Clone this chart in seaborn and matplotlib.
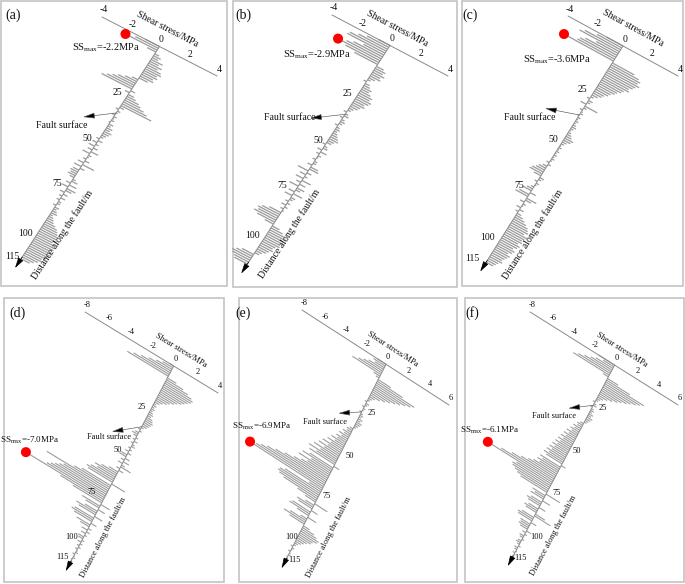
import numpy as np
import matplotlib
matplotlib.use("Agg")
import matplotlib.pyplot as plt
from matplotlib.transforms import Affine2D
from matplotlib.patches import Rectangle
import seaborn as sns

sns.set_theme(style="white")
plt.rcParams["font.family"] = ["Liberation Serif", "DejaVu Serif"]
plt.rcParams["mathtext.default"] = "regular"

# ---------------- data ----------------
distance = list(range(116))  # m along the fault

stress_a = [
    -1.0, -1.6, -2.2, -0.6, 0.3, 0.5, 0.4, 0.8, 0.6, 0.9,
    0.7, 1.0, 1.1, 0.9, 1.0, 0.8, 0.9, 0.6, -0.4, -0.8,
    -1.2, -1.5, -1.8, -2.1, 0.3, -0.3, 0.4, 0.6, 0.9, 1.1,
    1.4, 1.7, 2.1, 0.3, -0.2, 0.2, 0.1, -0.2, 0.2, 0.1,
    0.2, -0.1, 0.3, 0.2, 0.4, 0.3, 0.5, 0.4, 0.3, 0.2,
    -0.2, 0.3, -0.3, 0.2, -0.4, 0.3, -0.3, 0.5, -0.5, 0.2,
    0.1, -0.2, 0.3, -0.4, 0.8, -0.5, 0.3, -0.4, -0.5, -0.4,
    -0.5, -0.3, 0.2, 0.4, -0.3, 0.5, -0.4, 0.6, 0.4, -0.3,
    0.3, -0.2, 0.3, -0.2, 0.2, 0.2, -0.2, 0.3, 0.2, 0.3,
    0.4, 0.2, 0.3, 0.4, 0.5, 0.7, 0.9, 1.0, 1.1, 1.2,
    1.2, 1.3, 1.1, 1.3, 1.4, 1.4, 1.2, 1.5, 1.4, 1.3,
    1.3, 1.1, 1.2, 1.0, 0.8, 0.6,
]
stress_b = [
    -0.8, -1.5, -2.0, -2.5, -2.6, -1.4, -2.0, -2.4, -2.9, -2.3,
    -1.6, 0.5, 0.7, 0.6, 0.8, 0.6, 0.7, 0.4, 0.2, -0.2,
    0.3, 0.4, 0.6, 0.5, 0.7, 0.9, 0.8, 1.0, 0.9, 0.7,
    0.8, 0.6, 0.5, 0.3, 0.2, -0.2, 0.2, 0.3, -0.2, 0.2,
    0.3, 0.2, -0.2, 0.2, 0.3, 0.2, 0.3, 0.4, 0.5, 0.6,
    0.4, 0.3, -0.2, 0.2, 0.3, -0.3, 0.4, -0.2, 0.2, 0.1,
    -0.2, 0.2, 0.2, -0.3, 0.5, 0.6, -0.7, 0.3, -0.4, 0.2,
    -0.5, 0.6, -0.3, 0.4, -0.6, 0.5, 0.3, -0.4, 0.6, -0.5,
    0.3, 0.2, -0.2, 0.2, -0.3, 0.2, -0.2, 0.1, -0.8, -1.2,
    -1.4, -1.3, -1.5, -1.2, -0.6, 0.5, 0.8, 1.0, 1.2, 1.1,
    1.2, 1.0, 1.1, 0.9, 0.8, 0.9, 0.7, 0.6, 0.4, 0.3,
    -0.8, -1.1, -1.3, -1.2, -1.0, -0.9,
]
stress_c = [
    -1.2, -1.8, -2.6, -2.9, -1.6, -2.3, -2.6, -2.7, -3.6, 1.6,
    2.0, 2.2, 2.1, 2.3, 2.1, 2.0, 1.8, 1.9, 1.6, 1.5,
    1.3, 1.2, 1.0, 0.9, 0.7, 0.6, 0.4, 0.2, -0.2, 0.3,
    0.2, -0.4, 0.9, 0.2, -0.2, 0.1, 0.2, -0.1, 0.2, 0.1,
    0.2, 0.1, 0.2, 0.3, 0.2, 0.1, 0.2, 0.3, 0.4, 0.6,
    0.5, 0.3, 0.2, 0.1, 0.2, 0.1, 0.2, 0.1, 0.2, 0.1,
    0.2, 0.1, -0.2, 0.2, -0.3, -0.5, -0.6, -0.8, -0.9, -0.5,
    0.3, 0.2, -0.2, 0.2, 0.1, -0.2, -0.4, -0.6, 0.4, -0.7,
    -0.9, 0.7, 0.4, -0.3, 0.2, 0.1, -0.3, 0.3, -0.2, 0.3,
    0.5, 0.7, 0.9, 1.1, 1.2, 1.3, 1.1, 1.4, 1.3, 1.2,
    1.3, 1.1, 1.3, 1.2, 1.0, 1.2, 1.1, 0.9, 1.1, 1.0,
    0.9, 0.8, 0.9, 0.7, 0.6, 0.5,
]
stress_d = [
    -0.4, -0.9, -1.4, -2.0, -2.6, -3.2, -3.7, 0.8, 1.5, 2.0,
    2.4, 2.6, 2.5, 2.3, 2.1, 1.9, 1.6, 1.4, 1.1, 0.9,
    0.6, 0.4, 0.2, 0.3, 0.2, 0.3, 0.2, 0.3, 0.4, 0.3,
    0.5, 0.6, 0.7, 0.6, 0.5, 0.4, 0.2, -0.2, 0.2, -0.3,
    -0.5, -0.3, 0.2, -0.2, 0.3, -0.2, 0.2, 0.3, -0.2, 0.2,
    -0.3, 0.3, -0.5, -0.6, 0.4, -0.3, 0.5, -0.4, 0.3, 0.9,
    -0.3, 0.4, -0.8, -1.4, -1.9, -1.6, -2.1, -2.4, -2.2, 1.2,
    -2.6, -3.2, -5.6, -4.0, -4.3, -4.6, -4.9, -5.2, -7.0, -3.8,
    -2.6, 0.8, -1.6, -1.2, 0.6, -1.1, -1.8, -1.5, 0.7, -1.7,
    -1.9, -1.6, 0.5, -1.2, -0.8, 0.3, -0.5, 0.3, -0.4, 0.2,
    -0.5, -0.4, 0.2, -0.3, 0.2, -0.2, 0.2, -0.2, 0.1, 0.2,
    -0.2, 0.1, 0.2, -0.1, 0.1, 0.1,
]
stress_e = [
    -0.8, -1.1, -0.9, -1.4, -1.8, -2.2, -2.7, -0.6, -0.3, 1.2,
    2.4, 3.6, 3.3, 2.9, 2.5, 2.1, 1.7, 1.3, 0.9, 0.5,
    0.3, 0.2, -0.2, 0.3, 0.2, -0.2, 0.2, 0.1, -0.2, 0.2,
    0.3, 0.2, 0.4, 0.3, 0.5, 0.4, 0.3, 0.2, -0.3, -0.5,
    -0.4, -0.7, -0.5, -0.9, -0.6, -1.0, -0.8, -1.3, -0.9, -1.5,
    -1.1, -1.8, -1.2, -2.0, -1.4, -2.3, -1.6, -2.6, -1.8, -2.4,
    0.5, -2.2, -2.8, -1.9, -3.0, -2.1, -2.6, -3.2, -4.0, -4.8,
    -5.5, -6.0, -6.4, -6.9, -1.2, -3.4, -3.8, -3.9, -3.7, -3.2,
    -1.8, -1.0, 1.2, -0.8, -1.5, -1.3, 0.6, -1.7, -1.9, -1.1,
    0.8, -0.6, -1.5, -2.0, -1.4, 0.6, 1.1, 1.4, 1.7, 1.6,
    1.3, 1.2, 0.9, 0.7, 0.5, 0.3, 0.2, -0.2, 0.2, 0.1,
    -0.2, 0.1, 0.2, -0.1, 0.1, 0.1,
]
stress_f = [
    -1.5, -1.0, -1.6, -2.0, -2.5, -3.0, -3.4, -0.5, 1.0, 2.2,
    3.6, 3.3, 3.0, 2.6, 2.3, 1.9, 1.6, 1.2, 0.8, 0.5,
    0.3, 0.2, -0.2, 0.2, 0.3, -0.2, 0.2, 0.3, 0.2, 0.4,
    0.3, 0.5, 0.4, 0.3, 0.2, -0.3, -0.5, -0.4, -0.7, -0.5,
    -0.8, -0.6, -1.0, -0.7, -1.1, -0.8, -1.2, -0.9, -1.3, -1.0,
    -1.4, -1.1, -1.5, -1.2, -1.6, -1.3, -1.7, -1.4, -1.8, -1.5,
    0.4, -1.9, -1.6, -2.0, -1.7, -2.2, -2.6, -3.2, -4.0, -4.9,
    -6.1, -3.3, -3.6, -3.5, -3.2, -2.9, -2.5, 1.3, -1.2, -0.9,
    -1.2, 0.7, -1.0, -1.3, -1.1, 0.6, -0.9, -1.2, -1.0, 0.9,
    1.5, -1.1, -1.4, -1.3, 0.5, -0.9, -0.8, -0.9, -0.7, 0.4,
    -0.3, 0.2, -0.4, -0.3, 0.2, -0.3, -0.4, -0.2, 0.2, -0.3,
    -0.2, 0.1, -0.2, 0.1, -0.1, 0.1,
]

panel_names = ["(a)", "(b)", "(c)", "(d)", "(e)", "(f)"]
stress_ticks_top = [-4, -2, 0, 2, 4]
stress_ticks_d = [-8, -6, -4, -2, 0, 2, 4]
stress_ticks_ef = [-8, -6, -4, -2, 0, 2, 4, 6]
dist_ticks_full = [25, 50, 75, 100, 115]
dist_ticks_b = [25, 50, 75, 100]

# ---------------- layout (pixel geometry of each panel) ----------------
panels = [
    dict(name=panel_names[0], s=stress_a, ticks=stress_ticks_top, dticks=dist_ticks_full,
         frame=(1, 1, 226, 285), O=(159.5, 46.5), ev=(-1.204, 1.846), eu=(14.375, 7.375),
         fs=7, lab=(13, 15), ssl=(106, 48), shear=(167.5, 29), dlab=(62, 235),
         fst=(62, 126), head=(83, 117), fsd=36,
         doff=[(-12, 0), (-12, 0), (-12, -1), (-14, 2), (-9, -2)]),
    dict(name=panel_names[1], s=stress_b, ticks=stress_ticks_top, dticks=dist_ticks_b,
         frame=(233, 1, 224, 286), O=(390, 45.5), ev=(-1.24, 1.9), eu=(14.5, 7.625),
         fs=7, lab=(243, 15), ssl=(317, 55), shear=(397.5, 28.3), dlab=(289, 234),
         fst=(290, 118), head=(310, 118.3), fsd=36.2,
         doff=[(-12, 0), (-10, 0), (-15, -3), (-13, 0)]),
    dict(name=panel_names[2], s=stress_c, ticks=stress_ticks_top, dticks=dist_ticks_full,
         frame=(462, 1, 221, 285), O=(623, 46), ev=(-1.19, 1.88), eu=(13.75, 7.5),
         fs=7, lab=(470, 15), ssl=(557, 60), shear=(632.5, 28.3), dlab=(532.5, 234),
         fst=(530, 118), head=(545, 108.3), fsd=36.7,
         doff=[(-11, -3), (-10.5, 0), (-14, -2), (-16, 3), (-14, -4)]),
    dict(name=panel_names[3], s=stress_d, ticks=stress_ticks_d, dticks=dist_ticks_full,
         frame=(4, 298, 220, 284), O=(173.7, 366), ev=(-0.9, 1.71), eu=(11.083, 6.75),
         fs=6, lab=(18, 313), ssl=(30, 440), shear=(181, 351), dlab=(103, 537.5),
         fst=(109, 437), head=(111.7, 431.7), fsd=35.5,
         doff=[(-9, -2), (-11, -1.5), (-15, -2), (-12, 0), (-8, -6)]),
    dict(name=panel_names[4], s=stress_e, ticks=stress_ticks_ef, dticks=dist_ticks_full,
         frame=(239, 298, 218, 284), O=(386, 364.3), ev=(-0.87, 1.7), eu=(10.5, 6.786),
         fs=6, lab=(243, 313), ssl=(262, 426), shear=(393, 349), dlab=(329, 537.5),
         fst=(325, 422), head=(338.3, 413.3), fsd=28,
         doff=[(8, 6.5), (7.5, 7), (6, 4.5), (-7, 3), (9, 0.5)]),
    dict(name=panel_names[5], s=stress_f, ticks=stress_ticks_ef, dticks=dist_ticks_full,
         frame=(465, 298, 219, 284), O=(614.6, 365.1), ev=(-0.89, 1.675), eu=(10.571, 6.643),
         fs=6, lab=(472, 313), ssl=(490, 430), shear=(622, 350), dlab=(553.5, 535.5),
         fst=(554, 416), head=(568.3, 408.3), fsd=24,
         doff=[(10, 1), (7, 2), (9, 2.4), (11, 4.5), (8, 0)]),
]

BAR = "#9d9d9d"
AXIS = "#8a8a8a"

fig = plt.figure(figsize=(6.85, 5.84), dpi=100)
ax = fig.add_axes([0, 0, 1, 1])

for p in panels:
    O, ev, eu = p["O"], p["ev"], p["eu"]
    T = Affine2D(np.array([[ev[0], eu[0], O[0]],
                           [ev[1], eu[1], O[1]],
                           [0.0, 0.0, 1.0]])) + ax.transData
    fs = p["fs"]

    # panel frame
    x0, y0, w, h = p["frame"]
    ax.add_patch(Rectangle((x0, y0), w, h, fill=False, edgecolor="#c4c4c4", lw=1.2, zorder=0))

    # bars (distance along fault -> stress)
    sns.barplot(x=distance, y=p["s"], native_scale=True, orient="x", width=0.58,
                color=BAR, saturation=1, errorbar=None, linewidth=0,
                transform=T, ax=ax, zorder=2)

    # shear stress axis
    ticks = p["ticks"]
    ax.plot([0, 0], [ticks[0], ticks[-1]], color=AXIS, lw=0.7, transform=T, zorder=3)
    for t in ticks:
        ax.annotate(f"{t:g}", xy=(0, t), xycoords=T, xytext=(2, 7),
                    textcoords="offset pixels", ha="center", va="center",
                    fontsize=fs, color="#111111")
    rot_u = np.degrees(np.arctan2(-eu[1], eu[0]))
    ax.text(*p["shear"], "Shear stress/MPa", rotation=rot_u, rotation_mode="anchor",
            ha="center", va="center", fontsize=fs, color="#111111")

    # fault line with arrow
    ax.plot([0, 115], [0, 0], color=AXIS, lw=0.7, transform=T, zorder=3)
    ax.annotate("", xy=(120, 0), xycoords=T, xytext=(114, 0), textcoords=T,
                arrowprops=dict(arrowstyle="-|>,head_length=0.8,head_width=0.22",
                                color="black", lw=0.5, shrinkA=0, shrinkB=0,
                                mutation_scale=8), zorder=4)
    for dt, (dx, dy) in zip(p["dticks"], p["doff"]):
        ax.annotate(f"{dt}", xy=(dt, 0), xycoords=T, xytext=(dx, -dy),
                    textcoords="offset pixels", ha="center", va="center",
                    fontsize=fs, color="#111111")
    rot_v = np.degrees(np.arctan2(ev[1], -ev[0]))
    ax.text(*p["dlab"], "Distance along the fault/m", rotation=rot_v,
            rotation_mode="anchor", ha="center", va="center", fontsize=fs, color="#111111")

    # fault surface annotation
    ax.annotate("", xy=p["head"], xycoords="data", xytext=(p["fsd"], 0), textcoords=T,
                arrowprops=dict(arrowstyle="-|>,head_length=0.9,head_width=0.22",
                                facecolor="black", edgecolor="#555555", lw=0.45,
                                shrinkA=0, shrinkB=0, mutation_scale=8), zorder=4)
    ax.text(*p["fst"], "Fault surface", ha="center", va="center", fontsize=fs, color="#111111")

    # maximum shear stress
    s_arr = np.array(p["s"])
    imax = int(np.argmin(s_arr))
    smax = s_arr[imax]
    sns.scatterplot(x=[distance[imax]], y=[smax], color="#ff0000", s=52, edgecolor="none",
                    transform=T, ax=ax, legend=False, zorder=5)
    ax.text(*p["ssl"], f"SS$_{{max}}$={smax:.1f}MPa", ha="center", va="center",
            fontsize=fs + 0.5, color="#111111")

    ax.text(*p["lab"], p["name"], ha="center", va="center", fontsize=10, color="#111111")

ax.set_xlim(0, 685)
ax.set_ylim(584, 0)
ax.axis("off")
fig.savefig("out.png", dpi=100)
